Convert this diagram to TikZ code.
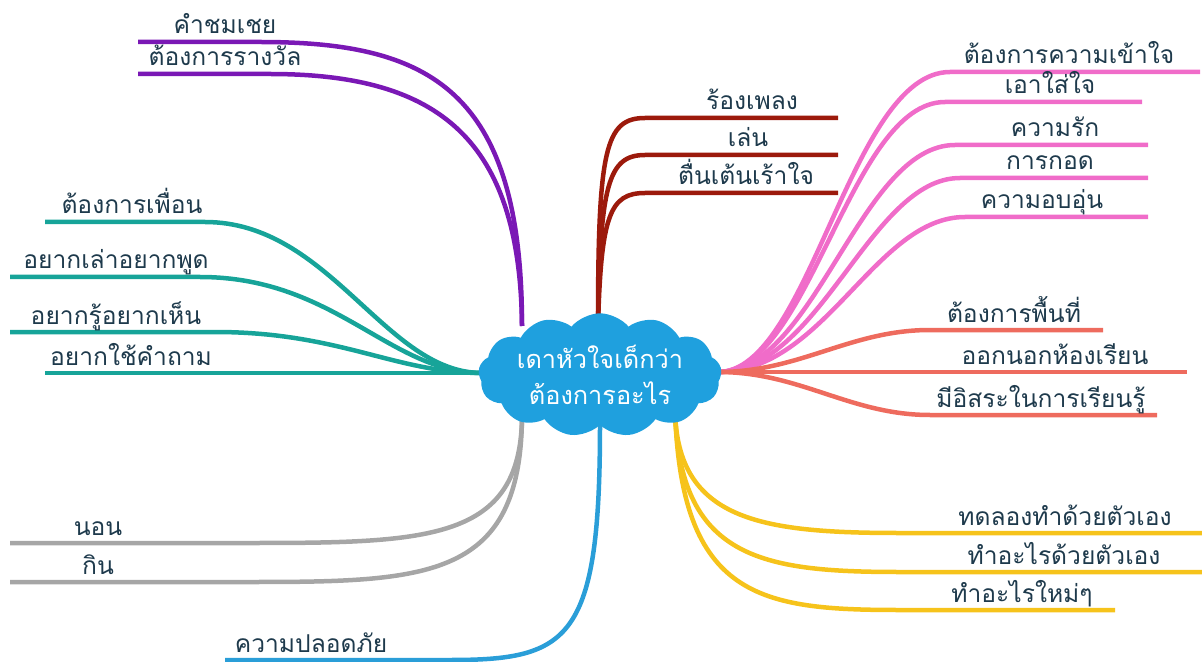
\documentclass[tikz,border=0pt]{standalone}
\usepackage{fontspec}
\newfontfamily\thaifont[Script=Thai]{Loma}
\usetikzlibrary{shapes.symbols}
\definecolor{morado}{HTML}{7A18B5}
\definecolor{granate}{HTML}{9C1A0C}
\definecolor{rosa}{HTML}{F06CC9}
\definecolor{salmon}{HTML}{EE6B5E}
\definecolor{amarillo}{HTML}{F6C31B}
\definecolor{azul}{HTML}{2A9ED8}
\definecolor{gris}{HTML}{A6A6A6}
\definecolor{verde}{HTML}{17A499}
\definecolor{nube}{HTML}{1FA0DE}
\definecolor{tinta}{HTML}{1E3A4C}
\begin{document}
\begin{tikzpicture}[x=0.025cm,y=-0.025cm,
    rama/.style={line width=3.2pt},
    hoja/.style={font=\thaifont\fontsize{17.5}{20}\selectfont, text=tinta, inner sep=0pt, anchor=base}]
    \useasboundingbox (0,0) rectangle (1202,662);

    % Puntos de salida en la nube
    \coordinate (Smor) at (522,326);
    \coordinate (Sgra) at (598,326);
    \coordinate (Sder) at (718,372);
    \coordinate (Sama) at (675,410);
    \coordinate (Sazu) at (600,424);
    \coordinate (Sgri) at (522,418);
    \coordinate (Sizq) at (482,373);

    % Extremos de las ramas
    \coordinate (M1) at (138,42);  \coordinate (M2) at (138,74);
    \coordinate (G1) at (838,118); \coordinate (G2) at (838,155); \coordinate (G3) at (838,193);
    \coordinate (R1) at (1200,72); \coordinate (R2) at (1142,102); \coordinate (R3) at (1148,145);
    \coordinate (R4) at (1148,178); \coordinate (R5) at (1148,217);
    \coordinate (N1) at (1103,330); \coordinate (N2) at (1187,372); \coordinate (N3) at (1157,415);
    \coordinate (A1) at (1202,533); \coordinate (A2) at (1202,572); \coordinate (A3) at (1115,610);
    \coordinate (Z1) at (225,660);
    \coordinate (C1) at (10,543);  \coordinate (C2) at (10,582);
    \coordinate (V1) at (45,222);  \coordinate (V2) at (10,277); \coordinate (V3) at (10,332); \coordinate (V4) at (45,373);

    % Ramas curvas
    \draw[rama, morado] (Smor) .. controls (522,90) and (430,42) .. (260,42) -- (M1);
    \draw[rama, morado] (Smor) .. controls (520,140) and (440,74) .. (270,74) -- (M2);

    \draw[rama, granate] (Sgra) .. controls (598,150) and (605,118) .. (645,118) -- (G1);
    \draw[rama, granate] (Sgra) .. controls (600,185) and (608,155) .. (645,155) -- (G2);
    \draw[rama, granate] (Sgra) .. controls (601,215) and (610,193) .. (645,193) -- (G3);

    \draw[rama, rosa] (Sder) .. controls (810,372) and (850,72) .. (950,72) -- (R1);
    \draw[rama, rosa] (Sder) .. controls (810,372) and (850,102) .. (945,102) -- (R2);
    \draw[rama, rosa] (Sder) .. controls (815,372) and (860,145) .. (955,145) -- (R3);
    \draw[rama, rosa] (Sder) .. controls (820,372) and (870,178) .. (960,178) -- (R4);
    \draw[rama, rosa] (Sder) .. controls (825,372) and (875,217) .. (965,217) -- (R5);

    \draw[rama, salmon] (Sder) .. controls (800,372) and (850,330) .. (930,330) -- (N1);
    \draw[rama, salmon] (Sder) -- (N2);
    \draw[rama, salmon] (Sder) .. controls (800,372) and (850,415) .. (930,415) -- (N3);

    \draw[rama, amarillo] (Sama) .. controls (677,520) and (760,533) .. (900,533) -- (A1);
    \draw[rama, amarillo] (Sama) .. controls (679,558) and (760,572) .. (900,572) -- (A2);
    \draw[rama, amarillo] (Sama) .. controls (681,598) and (760,610) .. (900,610) -- (A3);

    \draw[rama, azul] (Sazu) .. controls (600,640) and (570,660) .. (450,660) -- (Z1);

    \draw[rama, gris] (Sgri) .. controls (520,540) and (430,543) .. (250,543) -- (C1);
    \draw[rama, gris] (Sgri) .. controls (520,578) and (430,582) .. (250,582) -- (C2);

    \draw[rama, verde] (Sizq) .. controls (385,373) and (330,222) .. (205,222) -- (V1);
    \draw[rama, verde] (Sizq) .. controls (390,373) and (335,277) .. (200,277) -- (V2);
    \draw[rama, verde] (Sizq) .. controls (395,373) and (340,332) .. (215,332) -- (V3);
    \draw[rama, verde] (Sizq) -- (V4);

    % Nube central
    \node[cloud, cloud puffs=13, cloud puff arc=100, aspect=2.4, fill=nube, inner sep=1pt,
          minimum width=6cm, minimum height=2.5cm, text=white, align=center,
          font=\thaifont\fontsize{18}{26}\selectfont] (centro) at (600,375)
          {เดาหัวใจเด็กว่า\\ต้องการอะไร};

    % Textos de las hojas
    \node[hoja] (tm1) at (225,34) {คำชมเชย};
    \node[hoja] (tm2) at (225,66) {ต้องการรางวัล};
    \node[hoja] (tg1) at (752,110) {ร้องเพลง};
    \node[hoja] (tg2) at (748,147) {เล่น};
    \node[hoja] (tg3) at (746,185) {ตื่นเต้นเร้าใจ};
    \node[hoja] (tr1) at (1069,64) {ต้องการความเข้าใจ};
    \node[hoja] (tr2) at (1050,94) {เอาใส่ใจ};
    \node[hoja] (tr3) at (1055,137) {ความรัก};
    \node[hoja] (tr4) at (1050,170) {การกอด};
    \node[hoja] (tr5) at (1042,209) {ความอบอุ่น};
    \node[hoja] (tn1) at (1014,322) {ต้องการพื้นที่};
    \node[hoja] (tn2) at (1055,364) {ออกนอกห้องเรียน};
    \node[hoja] (tn3) at (1041,407) {มีอิสระในการเรียนรู้};
    \node[hoja] (ta1) at (1065,525) {ทดลองทำด้วยตัวเอง};
    \node[hoja] (ta2) at (1064,564) {ทำอะไรด้วยตัวเอง};
    \node[hoja] (ta3) at (1022,602) {ทำอะไรใหม่ๆ};
    \node[hoja] (tz1) at (311,652) {ความปลอดภัย};
    \node[hoja] (tc1) at (98,535) {นอน};
    \node[hoja] (tc2) at (98,574) {กิน};
    \node[hoja] (tv1) at (132,214) {ต้องการเพื่อน};
    \node[hoja] (tv2) at (116,269) {อยากเล่าอยากพูด};
    \node[hoja] (tv3) at (116,324) {อยากรู้อยากเห็น};
    \node[hoja] (tv4) at (131,365) {อยากใช้คำถาม};
\end{tikzpicture}
\end{document}
